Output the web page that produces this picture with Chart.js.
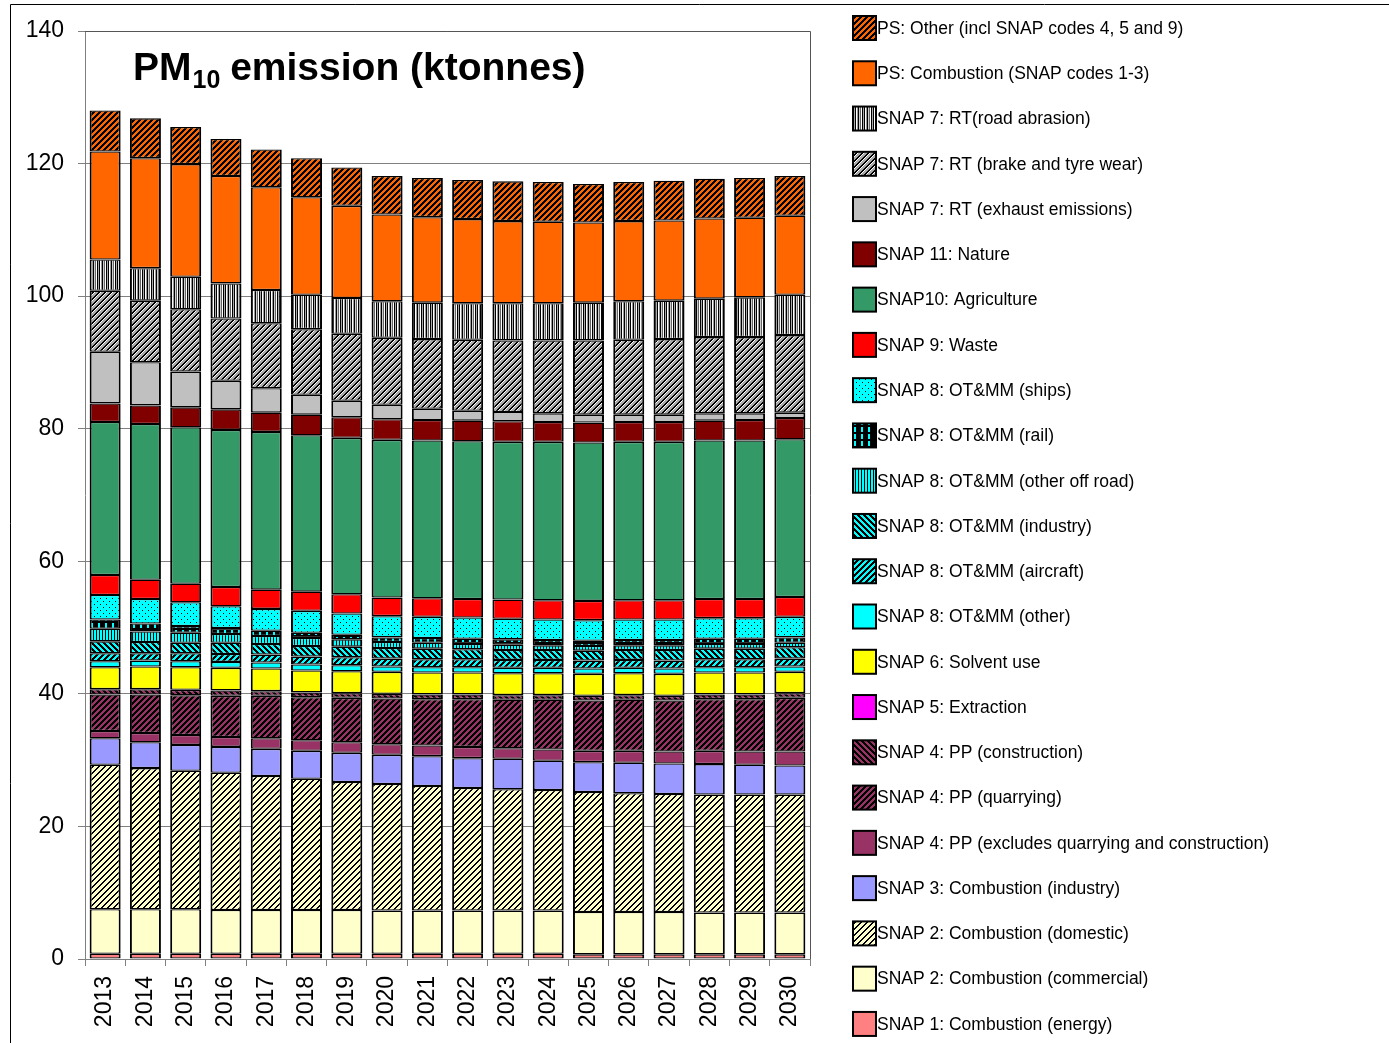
<!DOCTYPE html>
<html>
<head>
<meta charset="utf-8">
<script src="https://cdn.jsdelivr.net/npm/chart.js@4.4.1/dist/chart.umd.min.js"></script>
<style>
  html, body { margin: 0; padding: 0; background: #fff; }
  #wrap { position: relative; width: 1389px; height: 1043px; }
</style>
</head>
<body>
<div id="wrap"><canvas id="pmChart" width="1389" height="1043"></canvas></div>
<script>
// years and values (ktonnes)
const years = ['2013','2014','2015','2016','2017','2018','2019','2020','2021','2022','2023','2024','2025','2026','2027','2028','2029','2030'];
const yTicks = [0, 20, 40, 60, 80, 100, 120, 140];

const energy     = [0.8,0.8,0.8,0.8,0.8,0.8,0.8,0.8,0.8,0.8,0.8,0.8,0.7,0.7,0.7,0.7,0.7,0.7];
const commercial = [6.7,6.7,6.7,6.6,6.6,6.6,6.6,6.5,6.5,6.5,6.5,6.5,6.4,6.4,6.4,6.3,6.3,6.3];
const domestic   = [21.8,21.3,20.9,20.7,20.2,19.8,19.3,19.1,18.8,18.5,18.3,18.2,18.1,17.9,17.8,17.8,17.8,17.8];
const industry3  = [4.0,3.9,3.9,3.9,4.1,4.2,4.4,4.4,4.5,4.5,4.6,4.4,4.5,4.6,4.6,4.6,4.5,4.4];
const ppExcl     = [1.1,1.4,1.5,1.5,1.6,1.6,1.6,1.6,1.6,1.7,1.6,1.7,1.7,1.8,1.8,2.0,2.0,2.1];
const ppQuarry   = [5.5,5.8,6.0,6.2,6.4,6.5,6.7,6.9,7.0,7.2,7.3,7.5,7.6,7.7,7.7,7.8,7.9,8.1];
const ppConstr   = [0.8,0.8,0.8,0.8,0.7,0.7,0.7,0.7,0.7,0.7,0.7,0.7,0.7,0.7,0.7,0.7,0.7,0.7];
const extraction = [0.02,0.02,0.02,0.02,0.02,0.02,0.02,0.02,0.02,0.02,0.02,0.02,0.02,0.02,0.02,0.02,0.02,0.02];
const solvent    = [3.3,3.4,3.4,3.4,3.4,3.3,3.3,3.3,3.3,3.3,3.3,3.3,3.3,3.3,3.3,3.3,3.3,3.2];
const otOther    = [0.9,0.9,0.9,0.9,0.9,0.9,0.9,0.8,0.8,0.8,0.8,0.8,0.8,0.8,0.8,0.8,0.8,0.8];
const aircraft   = [1.2,1.1,1.2,1.2,1.2,1.2,1.2,1.2,1.2,1.2,1.2,1.2,1.2,1.2,1.2,1.2,1.2,1.2];
const industry8  = [1.8,1.7,1.6,1.7,1.6,1.6,1.6,1.6,1.6,1.5,1.5,1.5,1.5,1.5,1.6,1.6,1.6,1.7];
const offRoad    = [1.9,1.6,1.5,1.3,1.2,1.2,1.1,0.9,0.9,0.8,0.8,0.7,0.7,0.7,0.7,0.7,0.7,0.7];
const rail       = [1.4,1.2,1.0,0.9,0.8,0.8,0.7,0.7,0.7,0.8,0.8,0.8,0.8,0.8,0.8,0.8,0.8,0.8];
const ships      = [3.7,3.7,3.6,3.3,3.3,3.3,3.2,3.2,3.2,3.2,3.1,3.1,3.1,3.1,3.1,3.1,3.1,3.1];
const waste      = [3.0,2.9,2.8,2.9,2.9,2.9,2.9,2.8,2.8,2.8,2.9,2.9,2.9,2.9,2.9,2.9,2.9,3.0];
const agriculture= [23.1,23.5,23.6,23.7,23.8,23.6,23.6,23.8,23.8,23.8,23.8,23.9,23.9,23.9,23.9,23.9,23.9,23.8];
const nature     = [2.8,2.8,3.0,3.1,2.9,3.1,3.1,3.1,3.1,3.1,3.1,3.0,3.0,3.0,3.0,3.0,3.1,3.2];
const exhaust    = [7.8,6.5,5.4,4.3,3.7,3.0,2.5,2.2,1.7,1.5,1.4,1.3,1.2,1.1,1.1,1.1,1.0,0.8];
const brakeTyre  = [9.2,9.3,9.4,9.4,9.8,9.9,10.1,10.1,10.5,10.7,10.8,11.0,11.2,11.3,11.4,11.5,11.5,11.7];
const roadAbr    = [4.7,4.9,4.9,5.3,5.0,5.2,5.4,5.5,5.5,5.5,5.6,5.6,5.7,5.8,5.8,5.8,6.0,6.1];
const psComb     = [16.3,16.6,17.0,16.2,15.5,14.7,13.9,13.1,12.9,12.7,12.4,12.3,12.1,12.1,12.1,12.1,12.0,11.9];
const psOther    = [6.2,6.0,5.6,5.6,5.7,5.9,5.8,5.8,5.9,5.9,6.0,6.0,5.8,5.9,6.0,6.0,6.0,6.0];

const FONT = "'Liberation Sans', Arial, sans-serif";
const canvas = document.getElementById('pmChart');
const ctx = canvas.getContext('2d');

// small bitmap fills, like the old excel pattern fills
function pattern(bg, fg, kind, n, w) {
    const c = document.createElement('canvas');
    c.width = n; c.height = n;
    const g = c.getContext('2d');
    g.fillStyle = bg;
    g.fillRect(0, 0, n, n);
    g.fillStyle = fg;
    for (let y = 0; y < n; y++) {
        for (let x = 0; x < n; x++) {
            let on = false;
            if (kind === 'up') on = ((x + y) % n) < w;
            else if (kind === 'down') on = ((x - y + n) % n) < w;
            else if (kind === 'vert') on = (x % n) < w;
            else if (kind === 'dots') on = (x === 1 && y === 1) || (x === 4 && y === 4);
            else if (kind === 'dash') on = (x % n) < w && (y % n) < n - 2;
            if (on) g.fillRect(x, y, 1, 1);
        }
    }
    return ctx.createPattern(c, 'repeat');
}

function brakePattern() {
    const n = 6;
    const c = document.createElement('canvas');
    c.width = n; c.height = n;
    const g = c.getContext('2d');
    for (let y = 0; y < n; y++) {
        for (let x = 0; x < n; x++) {
            const k = (x + y) % n;
            g.fillStyle = k < 2 ? '#000' : (k === 2 ? '#fff' : '#a8a8a8');
            g.fillRect(x, y, 1, 1);
        }
    }
    return ctx.createPattern(c, 'repeat');
}

function roadPattern() {
    const cols = ['#000', '#fff', '#999', '#000', '#ccc', '#666', '#fff', '#000', '#aaa'];
    const c = document.createElement('canvas');
    c.width = cols.length; c.height = 4;
    const g = c.getContext('2d');
    cols.forEach((col, i) => { g.fillStyle = col; g.fillRect(i, 0, 1, 4); });
    return ctx.createPattern(c, 'repeat');
}

const series = [
    { label: 'SNAP 1: Combustion (energy)', data: energy, fill: '#FF8080' },
    { label: 'SNAP 2: Combustion (commercial)', data: commercial, fill: '#FFFFCC' },
    { label: 'SNAP 2: Combustion (domestic)', data: domestic, fill: pattern('#FFFFCC', '#000', 'up', 6, 2) },
    { label: 'SNAP 3: Combustion (industry)', data: industry3, fill: '#9999FF' },
    { label: 'SNAP 4: PP (excludes quarrying and construction)', data: ppExcl, fill: '#993366' },
    { label: 'SNAP 4: PP (quarrying)', data: ppQuarry, fill: pattern('#993366', '#000', 'up', 6, 3) },
    { label: 'SNAP 4: PP (construction)', data: ppConstr, fill: pattern('#993366', '#000', 'down', 6, 3) },
    { label: 'SNAP 5: Extraction', data: extraction, fill: '#FF00FF' },
    { label: 'SNAP 6: Solvent use', data: solvent, fill: '#FFFF00' },
    { label: 'SNAP 8: OT&MM (other)', data: otOther, fill: '#00FFFF' },
    { label: 'SNAP 8: OT&MM (aircraft)', data: aircraft, fill: pattern('#00FFFF', '#000', 'up', 6, 3) },
    { label: 'SNAP 8: OT&MM (industry)', data: industry8, fill: pattern('#00FFFF', '#000', 'down', 6, 3) },
    { label: 'SNAP 8: OT&MM (other off road)', data: offRoad, fill: pattern('#00FFFF', '#000', 'vert', 3, 1) },
    { label: 'SNAP 8: OT&MM (rail)', data: rail, fill: pattern('#000', '#00FFFF', 'dash', 7, 2) },
    { label: 'SNAP 8: OT&MM (ships)', data: ships, fill: pattern('#00FFFF', '#000', 'dots', 6, 1) },
    { label: 'SNAP 9: Waste', data: waste, fill: '#FF0000' },
    { label: 'SNAP10: Agriculture', data: agriculture, fill: '#339966' },
    { label: 'SNAP 11: Nature', data: nature, fill: '#800000' },
    { label: 'SNAP 7: RT (exhaust emissions)', data: exhaust, fill: '#C0C0C0' },
    { label: 'SNAP 7: RT (brake and tyre wear)', data: brakeTyre, fill: brakePattern() },
    { label: 'SNAP 7: RT(road abrasion)', data: roadAbr, fill: roadPattern() },
    { label: 'PS: Combustion (SNAP codes 1-3)', data: psComb, fill: '#FF6600' },
    { label: 'PS: Other (incl SNAP codes 4, 5 and 9)', data: psOther, fill: pattern('#FF6600', '#000', 'up', 6, 3) }
];

// frame, plot border, title with subscript, and the legend column on the right
const decorations = {
    id: 'decorations',
    beforeDraw(chart) {
        const c = chart.ctx;
        c.save();
        c.fillStyle = '#fff';
        c.fillRect(0, 0, chart.width, chart.height);
        c.restore();
    },
    afterDatasetsDraw(chart) {
        const c = chart.ctx;
        const a = chart.chartArea;
        c.save();
        c.strokeStyle = '#555';
        c.lineWidth = 1;
        c.beginPath();
        c.moveTo(a.left, a.top + 0.5);
        c.lineTo(a.right + 0.5, a.top + 0.5);
        c.lineTo(a.right + 0.5, a.bottom);
        c.stroke();

        // outer frame of the figure
        c.strokeStyle = '#000';
        c.beginPath();
        c.moveTo(10.5, chart.height);
        c.lineTo(10.5, 4.5);
        c.lineTo(chart.width, 4.5);
        c.stroke();

        // title
        c.fillStyle = '#000';
        c.textBaseline = 'alphabetic';
        c.textAlign = 'left';
        let x = 133;
        const base = 80;
        c.font = 'bold 39px ' + FONT;
        c.fillText('PM', x, base);
        x += c.measureText('PM').width + 1;
        c.font = 'bold 25px ' + FONT;
        c.fillText('10', x, base + 8);
        x += c.measureText('10').width - 1;
        c.font = 'bold 39px ' + FONT;
        c.fillText(' emission (ktonnes)', x, base);

        // legend
        const ds = chart.data.datasets;
        c.font = '17.5px ' + FONT;
        c.textBaseline = 'middle';
        for (let i = 0; i < ds.length; i++) {
            const d = ds[ds.length - 1 - i];
            const cy = 28 + i * 45.27;
            c.fillStyle = d.backgroundColor;
            c.fillRect(853, cy - 12, 23, 24);
            c.strokeStyle = '#000';
            c.lineWidth = 2;
            c.strokeRect(853, cy - 12, 23, 24);
            c.fillStyle = '#000';
            c.fillText(d.label, 877, cy + 1);
        }
        c.restore();
    }
};

new Chart(canvas, {
    type: 'bar',
    data: {
        labels: years,
        datasets: series.map(s => ({
            label: s.label,
            data: s.data,
            backgroundColor: s.fill,
            borderColor: '#000',
            borderWidth: { top: 1.3, bottom: 1.3, left: 2, right: 2 },
            borderSkipped: false,
            barPercentage: 0.77,
            categoryPercentage: 1.0
        }))
    },
    options: {
        responsive: false,
        animation: false,
        layout: { padding: { top: 31, right: 579, bottom: 0, left: 0 } },
        scales: {
            x: {
                stacked: true,
                grid: { drawOnChartArea: false, offset: true, tickLength: 7, color: '#808080' },
                border: { color: '#808080' },
                ticks: {
                    font: { family: FONT, size: 23 },
                    color: '#000',
                    minRotation: 90,
                    maxRotation: 90,
                    padding: 10
                },
                afterFit: s => { s.height = 84; }
            },
            y: {
                stacked: true,
                min: 0,
                max: 140,
                afterBuildTicks: s => { s.ticks = yTicks.map(v => ({ value: v })); },
                grid: { color: '#808080', tickLength: 7, tickColor: '#808080' },
                border: { color: '#808080' },
                ticks: {
                    font: { family: FONT, size: 23 },
                    color: '#000',
                    padding: 14
                },
                afterFit: s => { s.width = 85; }
            }
        },
        plugins: {
            legend: { display: false },
            tooltip: { enabled: false },
            title: { display: false }
        }
    },
    plugins: [decorations]
});
</script>
</body>
</html>
